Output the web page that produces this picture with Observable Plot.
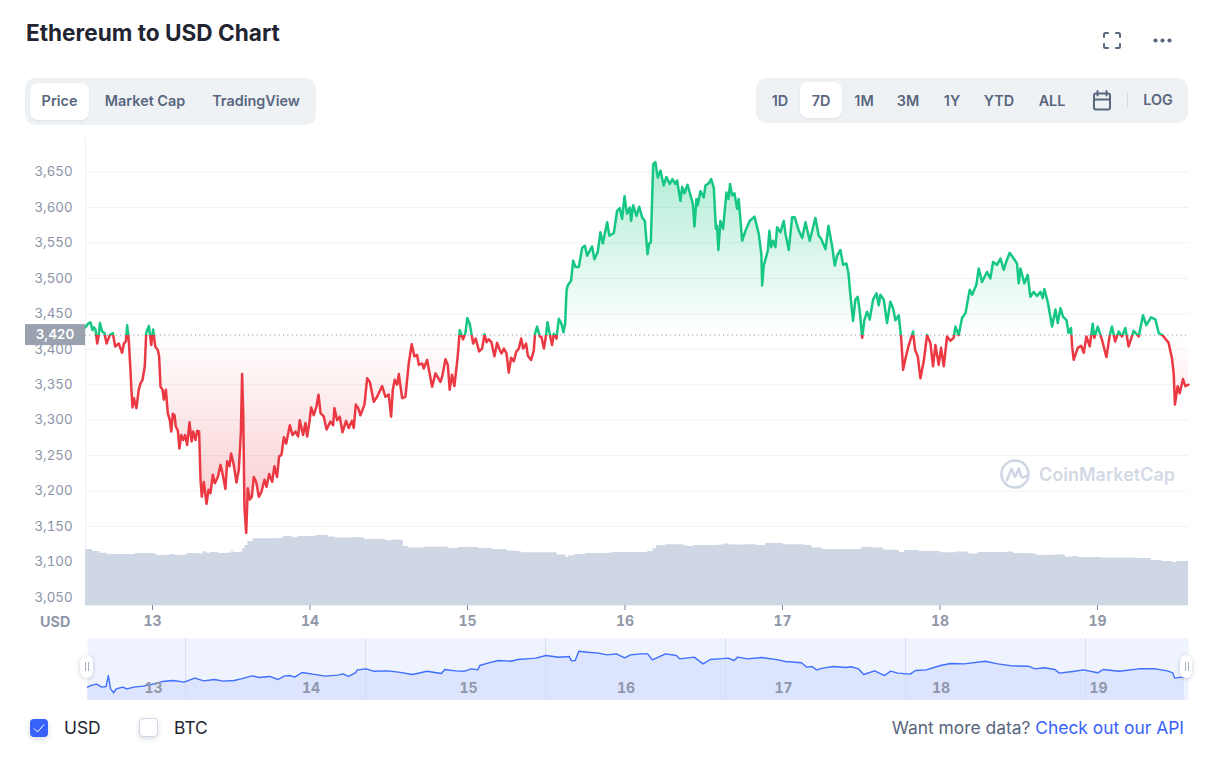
<!DOCTYPE html>
<html>
<head>
<meta charset="utf-8">
<script src="https://cdn.jsdelivr.net/npm/d3@7"></script>
<script src="https://cdn.jsdelivr.net/npm/@observablehq/plot@0.6"></script>
<style>
html,body{margin:0;padding:0;background:#fff;}
#page{position:relative;width:1220px;height:765px;overflow:hidden;font-family:Inter,sans-serif;color:#222531;}
#page>*{position:absolute;}
.h{white-space:nowrap;line-height:1;}
.btn{font-size:14.4px;font-weight:600;color:#58667e;transform:translate(-50%,-50%);white-space:nowrap;}
.grp{background:#eff2f5;border-radius:10px;}
.act{background:#fff;border-radius:8px;box-shadow:0 1px 2px rgba(88,102,126,.12);}
.hand{background:#fff;border-radius:7px;box-shadow:0 1px 4px rgba(88,102,126,.3);}
.hand i{position:absolute;top:7px;width:1px;height:9px;background:#a6b0c3;}
</style>
</head>
<body>
<div id="page"></div>
<script>
const xTicks = [13, 14, 15, 16, 17, 18, 19];
const yTicks = [3050, 3100, 3150, 3200, 3250, 3300, 3350, 3400, 3450, 3500, 3550, 3600, 3650];
const baselinePrice = 3420;

const priceDays = [12.575,12.590,12.606,12.619,12.628,12.638,12.649,12.659,12.666,12.681,12.695,12.708,12.729,12.748,12.763,12.786,12.807,12.818,12.831,12.839,12.850,12.860,12.865,12.873,12.882,12.898,12.913,12.924,12.937,12.951,12.960,12.977,12.992,13.004,13.017,13.034,13.042,13.051,13.064,13.072,13.085,13.097,13.110,13.119,13.129,13.140,13.148,13.161,13.171,13.182,13.195,13.207,13.220,13.235,13.248,13.258,13.273,13.284,13.296,13.305,13.313,13.326,13.343,13.356,13.368,13.383,13.396,13.415,13.432,13.449,13.463,13.474,13.489,13.499,13.516,13.533,13.548,13.561,13.569,13.576,13.584,13.595,13.605,13.618,13.631,13.643,13.658,13.675,13.692,13.711,13.724,13.741,13.760,13.774,13.791,13.804,13.819,13.834,13.849,13.872,13.889,13.908,13.925,13.935,13.956,13.971,13.982,13.997,14.007,14.024,14.041,14.054,14.067,14.088,14.105,14.130,14.147,14.155,14.172,14.189,14.206,14.229,14.246,14.267,14.278,14.291,14.306,14.320,14.346,14.363,14.380,14.405,14.426,14.458,14.479,14.500,14.515,14.526,14.538,14.553,14.564,14.585,14.606,14.627,14.646,14.663,14.680,14.691,14.712,14.722,14.744,14.775,14.797,14.828,14.839,14.860,14.875,14.887,14.902,14.917,14.938,14.951,14.972,14.987,14.999,15.014,15.036,15.052,15.074,
15.093,15.108,15.121,15.135,15.152,15.171,15.188,15.205,15.216,15.231,15.248,15.262,15.277,15.294,15.309,15.326,15.341,15.353,15.372,15.383,15.404,15.421,15.429,15.442,15.459,15.470,15.485,15.495,15.508,15.520,15.537,15.548,15.565,15.580,15.595,15.609,15.620,
15.629,15.637,15.658,15.671,15.686,15.707,15.728,15.745,15.760,15.791,15.806,15.827,15.844,15.859,15.887,15.901,15.929,15.950,15.967,15.982,15.997,16.013,16.031,16.039,16.052,16.073,16.090,16.109,16.126,16.143,16.153,16.164,16.179,16.193,16.208,16.225,16.246,16.263,16.284,16.301,16.320,16.331,16.352,16.363,16.378,16.397,16.416,16.431,16.441,16.454,16.462,16.479,16.500,16.511,16.532,16.547,16.564,16.577,16.585,16.593,16.606,16.623,16.644,16.657,16.667,16.680,16.695,16.712,16.722,16.744,16.765,16.792,16.822,16.849,16.866,16.871,16.881,16.907,16.917,16.928,16.940,16.955,16.966,16.987,17.008,17.019,17.040,17.061,17.078,17.104,17.125,17.146,17.173,17.209,17.230,17.245,17.273,17.292,17.315,17.332,17.347,17.368,17.385,17.406,17.419,17.431,
17.448,17.463,17.478,17.491,17.506,17.520,17.537,17.554,17.575,17.597,17.611,17.622,17.643,17.664,17.685,17.702,17.717,17.738,17.753,17.766,17.781,17.802,17.829,17.842,17.859,17.876,17.897,17.918,17.939,17.956,17.971,17.992,18.007,18.024,18.045,18.066,18.087,18.098,18.119,18.140,18.162,18.189,18.204,18.231,18.246,18.267,18.299,18.320,18.337,18.362,18.384,18.405,18.420,18.443,18.468,18.489,18.500,18.511,18.536,18.557,18.574,18.595,18.616,18.638,18.652,18.663,18.684,18.712,18.733,18.748,18.765,18.781,18.803,18.817,18.832,18.839,18.849,18.875,18.896,18.913,18.930,18.951,18.970,18.980,19.002,19.029,19.057,19.078,19.092,19.112,19.135,19.156,19.177,19.198,19.230,19.262,19.289,19.310,19.340,19.368,19.389,19.416,19.452,19.473,19.484,19.492,19.509,19.522,19.543,19.558,19.578];

const priceUsd = [3431,3436,3438,3427,3431,3428,3408,3420,3437,3425,3423,3408,3420,3423,3404,3408,3395,3408,3411,3434,3411,3371,3347,3318,3331,3317,3343,3352,3357,3376,3423,3433,3406,3428,3404,3399,3390,3347,3343,3329,3343,3310,3300,3284,3309,3307,3291,3285,3260,3279,3272,3279,3265,3297,3270,3284,3272,3285,3284,3216,3192,3213,3182,3202,3197,3223,3211,3220,3237,3220,3203,3242,3235,3253,3237,3212,3230,3282,3365,3310,3176,3141,3204,3188,3192,3220,3213,3192,3199,3216,3206,3224,3213,3235,3220,3249,3251,3276,3267,3293,3279,3284,3277,3300,3279,3296,3277,3298,3318,3307,3319,3336,3310,3305,3287,3298,3293,3317,3300,3305,3283,3299,3289,3299,3289,3322,3317,3307,3322,3359,3354,3326,3333,3348,3333,3336,3305,3343,3357,3350,3365,3331,3333,3380,3407,3390,3392,3378,3380,3373,3385,3347,3366,3354,3361,3386,3378,3343,3364,3348,3390,3427,3414,3423,3444,3436,3408,3415,3397,
3401,3421,3410,3414,3410,3390,3409,3399,3394,3401,3394,3367,3388,3383,3396,3401,3415,3401,3408,3391,3385,3398,3422,3432,3418,3417,3401,3414,3438,3424,3406,3422,3415,3443,3437,3424,3436,
3483,3490,3497,3525,3516,3516,3543,3546,3532,3545,3527,3537,3565,3549,3579,3560,3564,3595,3599,3584,3616,3591,3600,3581,3603,3588,3601,3586,3581,3534,3549,3551,3661,3664,3642,3652,3631,3643,3633,3640,3633,3638,3609,3629,3620,3632,3617,3605,3573,3612,3603,3623,3614,3631,3634,3640,3628,3570,3574,3540,3581,3570,3621,3612,3633,3617,3620,3598,3612,3553,3567,3581,3587,3563,3534,3490,3518,3539,3567,3544,3553,3544,3572,3565,3581,3563,3540,3586,3586,3567,3557,3579,3553,3585,3560,3556,3541,3574,3546,3518,3532,3540,3519,3521,3507,3477,
3440,3470,3474,3453,3416,3441,3453,3442,3470,3479,3462,3477,3470,3437,3467,3458,3441,3448,3418,3371,3387,3406,3425,3399,3390,3359,3383,3420,3409,3376,3406,3378,3402,3376,3418,3412,3416,3432,3420,3444,3451,3484,3477,3491,3514,3495,3509,3500,3523,3519,3528,3512,3523,3536,3528,3521,3493,3514,3493,3505,3474,3481,3475,3481,3472,3485,3467,3432,3456,3437,3458,3446,3441,3423,3430,3404,3385,3402,3405,3395,3418,3404,3436,3416,3432,3413,3389,3420,3432,3411,3425,3418,3430,3404,3426,3418,3448,3434,3445,3442,3423,3419,3409,3387,3366,3322,3348,3338,3358,3348,3350];

const volumeDays = [12.575,12.620,12.665,12.711,12.869,12.892,13.017,13.028,13.096,13.108,13.142,13.210,13.221,13.300,13.323,13.346,13.368,13.418,13.470,13.500,13.516,13.561,13.573,13.588,13.606,13.640,13.788,13.833,13.890,13.924,13.992,14.037,14.117,14.162,14.253,14.344,14.468,14.480,14.525,14.570,14.593,14.627,14.729,14.831,14.877,14.945,15.069,15.160,15.251,15.307,15.341,15.523,15.568,15.625,15.641,15.682,15.750,15.908,15.931,16.098,16.144,16.178,16.200,16.257,16.371,16.393,16.439,16.597,16.625,16.665,16.779,16.835,16.892,17.006,17.142,17.187,17.255,17.448,17.505,17.573,17.641,17.743,17.777,17.867,18.004,18.106,18.174,18.185,18.242,18.434,18.468,18.582,18.616,18.729,18.797,18.843,18.877,19.024,19.240,19.342,19.410,19.478,19.501,19.578];
const volumeBn = [24.0,23.1,22.4,21.9,21.9,22.3,21.9,21.4,21.4,21.9,21.4,21.6,22.3,22.1,23.0,22.4,22.7,22.3,22.4,23.0,22.7,22.9,24.3,25.7,27.4,28.6,28.7,29.6,29.1,29.6,29.6,30.0,29.4,28.9,29.1,28.3,28.3,27.9,28.1,27.9,25.3,24.7,25.0,25.1,24.4,24.9,24.4,24.0,23.4,23.1,22.6,22.6,21.7,20.6,21.3,21.9,22.3,22.6,22.7,22.7,23.1,24.3,25.6,26.0,25.7,25.3,25.7,25.9,26.4,25.9,26.1,25.7,26.6,26.0,25.7,24.7,24.0,24.0,24.9,24.7,23.7,22.7,23.6,23.1,22.6,22.9,22.6,22.1,22.7,22.9,22.3,22.1,21.4,21.7,20.7,21.0,20.6,20.4,20.1,19.3,18.9,18.3,18.9,18.9];

const navDays = [12.575,12.598,12.632,12.666,12.693,12.707,12.721,12.741,12.757,12.798,12.825,12.870,12.927,12.972,13.052,13.120,13.188,13.256,13.312,13.381,13.437,13.505,13.551,13.619,13.664,13.732,13.784,13.823,13.857,13.891,13.936,14.004,14.084,14.163,14.197,14.231,14.276,14.288,14.344,14.390,14.480,14.549,14.639,14.730,14.821,14.843,14.911,14.968,15.013,15.052,15.066,15.116,15.184,15.263,15.308,15.365,15.422,15.485,15.569,15.633,15.648,15.671,15.694,15.751,15.819,15.875,15.932,15.986,16.023,16.086,16.131,16.161,16.199,16.245,16.313,16.335,16.426,16.483,16.528,16.585,16.642,16.680,16.703,16.766,16.857,16.959,17.005,17.107,17.141,17.175,17.204,17.243,17.311,17.390,17.424,17.469,17.503,17.572,17.635,17.674,17.719,17.798,17.832,17.900,17.991,18.055,18.139,18.275,18.354,18.445,18.547,18.592,18.649,18.717,18.744,18.830,18.898,18.989,19.023,19.125,19.250,19.352,19.431,19.465,19.477,19.522,19.540];
const navUsd = [3225,3245,3260,3225,3233,3362,3205,3158,3205,3225,3205,3225,3237,3252,3292,3303,3284,3331,3299,3315,3296,3303,3323,3358,3339,3351,3315,3355,3362,3343,3398,3378,3355,3366,3382,3351,3394,3429,3441,3413,3417,3402,3374,3413,3386,3433,3417,3413,3441,3429,3480,3508,3539,3531,3551,3559,3567,3598,3578,3586,3535,3539,3649,3637,3626,3606,3618,3571,3606,3618,3618,3547,3579,3618,3598,3559,3579,3500,3551,3559,3567,3539,3579,3559,3575,3547,3527,3512,3461,3469,3429,3449,3469,3457,3465,3441,3374,3417,3362,3413,3390,3378,3421,3429,3480,3504,3500,3531,3500,3476,3472,3441,3453,3433,3390,3410,3429,3394,3433,3413,3441,3441,3417,3394,3331,3343,3345];
const navGridDays = [13.197, 14.340, 15.483, 16.625, 17.768, 18.911];

const priceData = priceDays.map((day, i) => ({day, price: priceUsd[i]}));
const volumeData = volumeDays.map((day, i) => ({day, vol: volumeBn[i]}));
const navData = navDays.map((day, i) => ({day, price: navUsd[i]}));

const page = document.getElementById("page");
const green = "#16c784", red = "#ea3943";
const xDomain = [12.5746, 19.578];
const yDomain = [3038.7, 3697.2];
const navYDomain = [3067, 3799];
const svgNS = "http://www.w3.org/2000/svg";
function el(name, attrs, parent) {
  const e = document.createElementNS(svgNS, name);
  for (const k in attrs) e.setAttribute(k, attrs[k]);
  if (parent) parent.appendChild(e);
  return e;
}
function place(node, left, top, z) {
  node.style.position = "absolute"; node.style.left = left + "px"; node.style.top = top + "px";
  if (z != null) node.style.zIndex = z;
  page.appendChild(node); return node;
}

// gradients anchored on the y scale
function gradients(index, {y}) {
  const g = el("g", {});
  const defs = el("defs", {}, g);
  const top = y(3664), bot = y(3141), mid = y(baselinePrice);
  const midOff = (mid - top) / (bot - top);
  const lg = el("linearGradient", {id: "lineGrad", gradientUnits: "userSpaceOnUse", x1: 0, x2: 0, y1: top, y2: bot}, defs);
  el("stop", {offset: midOff, "stop-color": green}, lg);
  el("stop", {offset: midOff, "stop-color": red}, lg);
  const ag = el("linearGradient", {id: "areaGrad", gradientUnits: "userSpaceOnUse", x1: 0, x2: 0, y1: top, y2: bot}, defs);
  el("stop", {offset: 0, "stop-color": green, "stop-opacity": 0.34}, ag);
  el("stop", {offset: midOff, "stop-color": green, "stop-opacity": 0}, ag);
  el("stop", {offset: midOff, "stop-color": red, "stop-opacity": 0}, ag);
  el("stop", {offset: 1, "stop-color": red, "stop-opacity": 0.28}, ag);
  return g;
}
function badge(index, {y}) {
  const g = el("g", {});
  const cy = y(baselinePrice);
  el("rect", {x: 25, y: cy - 10.5, width: 60, height: 21, fill: "#9aa1af"}, g);
  const t = el("text", {x: 55, y: cy + 4, "text-anchor": "middle", fill: "#fff", "font-size": 13.3, "font-weight": 600}, g);
  t.textContent = d3.format(",")(baselinePrice);
  return g;
}

// Main price chart
const main = Plot.plot({
  width: 1220, height: 510, marginTop: 10, marginBottom: 33, marginLeft: 85, marginRight: 32,
  style: {background: "transparent", fontFamily: "Inter, sans-serif"},
  x: {domain: xDomain, axis: null},
  y: {domain: yDomain, axis: null},
  marks: [
    gradients,
    Plot.gridY(yTicks, {stroke: "#eff2f5", strokeOpacity: 1}),
    Plot.ruleX([xDomain[0]], {stroke: "#eff2f5"}),
    Plot.ruleY([yDomain[0]], {stroke: "#eff2f5"}),
    Plot.axisY(yTicks, {anchor: "left", tickSize: 0, tickPadding: 13, tickFormat: d3.format(","), label: null, fontSize: 13.3, fill: "#8b94a7"}),
    Plot.axisX(xTicks, {anchor: "bottom", tickSize: 5, tickPadding: 6, tickFormat: d => String(d), label: null, fontSize: 14, fontWeight: 700, fill: "#9097a8", stroke: "#7f889c"}),
    Plot.areaY(priceData, {x: "day", y1: baselinePrice, y2: "price", fill: "url(#areaGrad)"}),
    Plot.ruleY([baselinePrice], {stroke: "#808a9d", strokeDasharray: "1,3.4", strokeWidth: 1}),
    Plot.lineY(priceData, {x: "day", y: "price", stroke: "url(#lineGrad)", strokeWidth: 2.5}),
    badge
  ]
});
place(main, 0, 128, 1);

// Volume area
const volume = Plot.plot({
  width: 1220, height: 80, marginTop: 0, marginBottom: 0, marginLeft: 85, marginRight: 32,
  style: {background: "transparent"},
  x: {domain: xDomain, axis: null},
  y: {domain: [0, 34.3], axis: null},
  marks: [Plot.areaY(volumeData, {x: "day", y: "vol", fill: "#cfd6e4", curve: "step-after"})]
});
place(volume, 0, 525, 2);

// Navigator
const nav = Plot.plot({
  width: 1220, height: 62, marginTop: 0, marginBottom: 0, marginLeft: 87, marginRight: 32,
  style: {background: "transparent", fontFamily: "Inter, sans-serif"},
  x: {domain: [12.5746, 19.565], axis: null},
  y: {domain: navYDomain, axis: null},
  marks: [
    Plot.frame({fill: "#eff3fe", stroke: null}),
    Plot.areaY(navData, {x: "day", y1: navYDomain[0], y2: "price", fill: "#3861fb", fillOpacity: 0.1}),
    Plot.ruleX(navGridDays, {stroke: "#d6ddf5"}),
    Plot.lineY(navData, {x: "day", y: "price", stroke: "#3f6ffb", strokeWidth: 1.4}),
    Plot.text(xTicks, {x: d => d, frameAnchor: "bottom", dy: -8, dx: -1, fontSize: 14, fontWeight: 700, fill: "#8f97a9"})
  ]
});
place(nav, 0, 638, 1);

// Header and controls
function div(cls, css, text, z) {
  const d = document.createElement("div");
  d.className = cls; d.style.cssText = css; if (text) d.textContent = text;
  if (z != null) d.style.zIndex = z;
  page.appendChild(d); return d;
}
div("h", "left:26px;top:22px;font-size:22.6px;font-weight:700;color:#222531;", "Ethereum to USD Chart");

div("grp", "left:25px;top:78px;width:291px;height:47px;");
div("act", "left:30px;top:83px;width:59px;height:37px;");
[["Price", 59.5], ["Market Cap", 145], ["TradingView", 256]].forEach(([t, x]) =>
  div("btn", `left:${x}px;top:100px;`, t));

div("grp", "left:756px;top:78px;width:432px;height:45px;");
div("act", "left:800px;top:82px;width:42px;height:36px;");
[["1D", 780], ["7D", 821], ["1M", 864], ["3M", 908], ["1Y", 952], ["YTD", 999], ["ALL", 1052], ["LOG", 1158]].forEach(([t, x]) =>
  div("btn", `left:${x}px;top:${t === "LOG" ? 99 : 100}px;`, t));
div("", "left:1127px;top:92px;width:1px;height:16px;background:#d3d9e3;");

const icons = el("svg", {width: 1220, height: 130, style: "left:0;top:0;pointer-events:none"});
page.appendChild(icons);
const g = el("g", {fill: "none", stroke: "#58667e", "stroke-width": 2, "stroke-linecap": "round", "stroke-linejoin": "round"}, icons);
["M1104 37v-2.5a1.5 1.5 0 0 1 1.5-1.5h2.5", "M1116 33h2.5a1.5 1.5 0 0 1 1.5 1.5v2.5", "M1104 44v2.5a1.5 1.5 0 0 0 1.5 1.5h2.5", "M1116 48h2.5a1.5 1.5 0 0 0 1.5-1.5v-2.5",
 "M1094 95.5a2 2 0 0 1 2-2h12a2 2 0 0 1 2 2v12a2 2 0 0 1-2 2h-12a2 2 0 0 1-2-2z", "M1094 99.5h16", "M1097.5 91v4.5", "M1106.5 91v4.5"
].forEach(d => el("path", {d}, g));
[1155.5, 1162.5, 1169.5].forEach(cx => el("circle", {cx, cy: 40.5, r: 2.1, fill: "#58667e", stroke: "none"}, icons));

div("h", "left:40px;top:615px;font-size:14.4px;font-weight:700;color:#8f97a9;z-index:3;", "USD");

// Watermark
const mark = el("svg", {width: 190, height: 36, style: "left:998px;top:456px;z-index:3;overflow:visible"});
page.appendChild(mark);
el("circle", {cx: 17, cy: 18, r: 13.5, fill: "none", stroke: "#cfd6e4", "stroke-width": 2.6}, mark);
el("path", {d: "M9 24 L13.5 13 L17 21 L21 12.5 L23 20 Q24.5 23 28 20", fill: "none", stroke: "#cfd6e4", "stroke-width": 2.6, "stroke-linejoin": "round", "stroke-linecap": "round"}, mark);
const wm = el("text", {x: 41, y: 25, "font-size": 18, "font-weight": 600, fill: "#d3d9e4", "font-family": "Inter, sans-serif"}, mark);
wm.textContent = "CoinMarketCap";

// Navigator handles
const hl = div("hand", "left:80px;top:655px;width:13px;height:23px;z-index:4;");
hl.innerHTML = "<i style='left:5px'></i><i style='left:8px'></i>";
const hr = div("hand", "left:1180px;top:655px;width:12px;height:23px;z-index:4;");
hr.innerHTML = "<i style='left:5px'></i><i style='left:8px'></i>";

// Footer
div("", "left:30px;top:719px;width:18px;height:18px;background:#3861fb;border-radius:4px;box-shadow:0 3px 6px rgba(88,102,126,.2);");
const chk = el("svg", {width: 18, height: 18, style: "left:30px;top:719px"});
page.appendChild(chk);
el("path", {d: "M4 9.5l3.5 3.5 6.5-7.5", fill: "none", stroke: "#fff", "stroke-width": 1}, chk);
div("h", "left:64px;top:719px;font-size:17.4px;color:#222531;", "USD");
div("", "left:139px;top:718px;width:17px;height:17px;background:#fff;border:1px solid #cfd6e4;border-radius:4px;box-shadow:0 2px 5px rgba(88,102,126,.2);");
div("h", "left:174px;top:719px;font-size:17.4px;color:#222531;", "BTC");
const api = div("h", "right:36px;top:719px;font-size:17.4px;color:#58667e;", "Want more data? ");
const a = document.createElement("span"); a.style.color = "#3861fb"; a.textContent = "Check out our API"; api.appendChild(a);
</script>
</body>
</html>
